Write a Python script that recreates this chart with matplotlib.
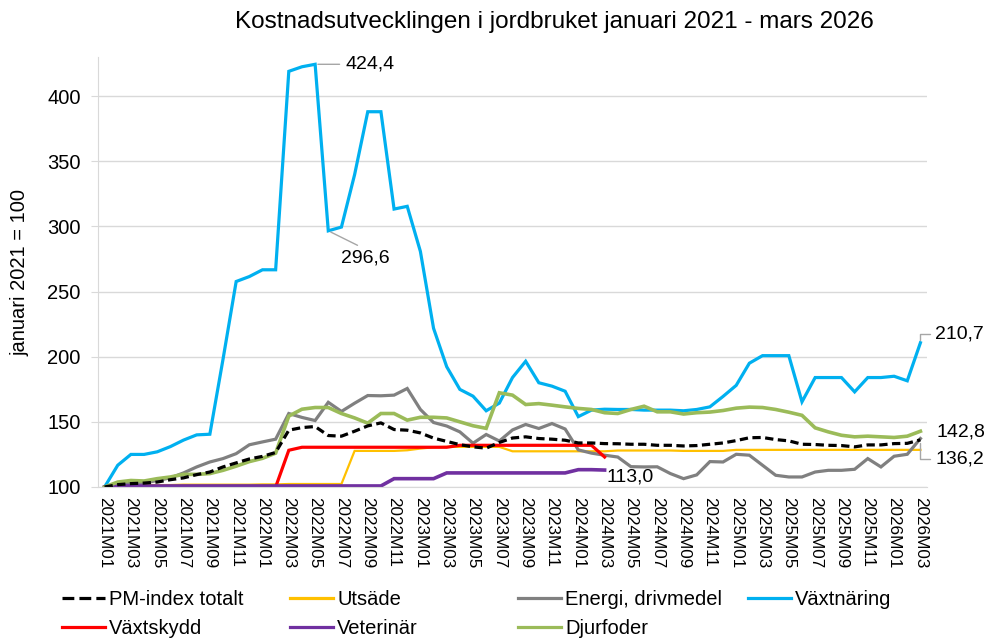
import numpy as np
import matplotlib
matplotlib.use("Agg")
import matplotlib.pyplot as plt
from matplotlib.lines import Line2D

plt.rcParams['font.family'] = ['Liberation Sans', 'DejaVu Sans']

# manader 2021M01 - 2026M03
months = [f"{y}M{m:02d}" for y in range(2021, 2027) for m in range(1, 13)][:63]

pm_totalt = [100, 101.8, 102.6, 103, 103.8, 105.6, 107, 109.5, 111.5, 115.4, 118.5, 121.5,
             123.5, 126.5, 143.6, 145.6, 146.4, 139.5, 139, 142.8, 146.9, 149.2, 144.1, 143.6,
             141.5, 137.5, 135, 132.5, 130.8, 129.8, 134.2, 137.6, 138.5, 137.2, 136.7, 135.9,
             133.8, 133.8, 133.3, 133.2, 132.8, 132.8, 132, 132, 131.5, 131.8, 132.8, 133.8,
             135.6, 137.8, 138, 136.4, 135.4, 132.8, 132.6, 132, 131.8, 130.8, 132.3, 132.3,
             133.3, 133.5, 136.2]
utsade = [100, 101.2, 101.5, 101.5, 101.5, 101.5, 101.8, 101.8, 101.8, 101.8, 101.8, 101.8,
          102, 102, 102.3, 102.3, 102.3, 102.3, 102.3, 127.7, 127.7, 127.7, 127.7, 128.2,
          129.5, 130.5, 130.8, 130.8, 130.8, 130.8, 130.8, 127.4, 127.4, 127.4, 127.4, 127.4,
          127.4, 127.4, 127.4, 128, 128, 128, 128, 128, 127.7, 127.7, 127.7, 127.7,
          128.5, 128.5, 128.5, 128.5, 128.5, 128.5, 128.5, 128.5, 128.5, 128.5, 128.5, 128.5,
          128.5, 128.5, 128.5]
energi = [100, 102.6, 102.6, 103, 105, 107, 110.8, 115.4, 119.2, 121.8, 125.6, 132.4,
          134.6, 136.7, 156.4, 153.4, 151, 165, 158, 164.3, 170.2, 170, 170.5, 175.6,
          159.5, 149.5, 146.8, 142.3, 133.6, 140.3, 135.3, 143.8, 148, 144.9, 148.7, 144.5,
          128.5, 126, 124.4, 123, 115.6, 115.4, 115.5, 110.3, 106.4, 109.3, 119.5, 119.2,
          125.1, 124.4, 116.7, 109, 107.7, 107.7, 111.5, 112.8, 112.8, 113.6, 121.8, 115.4,
          123.6, 125.1, 137.2]
vaxtnaring = [100, 116.7, 125, 125, 127, 131, 136, 140, 140.5, 198, 257.7, 261.5,
              266.7, 266.7, 419, 422.5, 424.4, 296.6, 299.5, 339.7, 388, 388, 313.3, 315.4,
              280.8, 221.8, 192.3, 174.9, 169.7, 158.5, 164.4, 184, 196.5, 180, 177.4, 173.5,
              154, 159, 159.7, 159.5, 159.5, 159, 159, 159, 158.5, 159.5, 161.5, 169.5,
              178, 195, 200.8, 200.8, 200.8, 165.4, 184, 184, 184, 173, 184, 184,
              185, 181.5, 210.7]
vaxtskydd = [100] * 14 + [128.2] + [130.5] * 12 + [132] * 11 + [123]
veterinar = [100] + [100.8] * 21 + [106.4] * 4 + [110.8] * 10 + [113.3, 113.3, 113.0]
djurfoder = [100, 103.8, 105, 104.6, 106.4, 107.7, 109.7, 109.7, 110.3, 112.8, 116, 119.5,
             122, 126, 154.4, 159.7, 161, 161, 156.4, 153, 149, 156.4, 156.4, 151.3,
             153.5, 153.5, 153, 150, 147, 145, 172.3, 170.5, 163.3, 164, 162.8, 161.5,
             160.3, 159.5, 157, 156.4, 159.5, 162, 157.7, 157.7, 156, 157, 157.5, 158.7,
             160.5, 161.3, 161, 159.5, 157.4, 155, 145.4, 142.3, 139.7, 138.5, 139, 138.5,
             138, 139, 142.8]

W, H = 987, 638
fig = plt.figure(figsize=(W / 100, H / 100), dpi=100)
ax = fig.add_axes([98 / W, 1 - 487 / H, 829 / W, 430 / H])

x = np.arange(len(months))
series = [
    ("Utsäde", utsade, "#FFC000", 1.6),
    ("Energi, drivmedel", energi, "#808080", 2.3),
    ("Växtnäring", vaxtnaring, "#00B0F0", 2.3),
    ("Växtskydd", vaxtskydd, "#FF0000", 2.3),
    ("Veterinär", veterinar, "#7030A0", 2.6),
    ("Djurfoder", djurfoder, "#9BBB59", 2.6),
]
lines = {}
for name, vals, col, lw in series:
    lines[name], = ax.plot(x[:len(vals)], vals, color=col, lw=lw, label=name,
                           solid_joinstyle='miter')
lines["PM-index totalt"], = ax.plot(x, pm_totalt, color='black', lw=2.3,
                                    ls=(0, (2.6, 1.4)), label="PM-index totalt")

ax.set_xlim(-0.5, len(months) - 0.5)
ax.set_ylim(100, 430)
ax.set_yticks(np.arange(100, 401, 50))
ax.set_xticks(x[::2])
ax.set_xticklabels(months[::2], rotation=270, fontsize=12.3)
ax.tick_params(axis='x', length=0, pad=7)
ax.tick_params(axis='y', length=5, color='#D9D9D9', pad=7.5, labelsize=14.5)
ax.grid(axis='y', color='#D9D9D9', lw=1)
ax.set_axisbelow(True)
for s in ['top', 'right']:
    ax.spines[s].set_visible(False)
for s in ['left', 'bottom']:
    ax.spines[s].set_color('#D9D9D9')

fig.text(554 / W, 1 - 22 / H, "Kostnadsutvecklingen i jordbruket januari 2021 - mars 2026",
         ha='center', va='center', fontsize=17.5)
fig.text(20 / W, 1 - 273 / H, "januari 2021 = 100", rotation=90,
         ha='center', va='center', fontsize=14.5)

# etiketter
lead = dict(arrowstyle='-', color='#A6A6A6', lw=1, shrinkA=2, shrinkB=2)
fs = 14
ax.annotate("424,4", xy=(16, vaxtnaring[16]), xytext=(30, 0), textcoords='offset pixels',
            ha='left', va='center', fontsize=fs,
            arrowprops=dict(lead, relpos=(0, 0.5)))
ax.annotate("296,6", xy=(17, vaxtnaring[17]), xytext=(13, -27), textcoords='offset pixels',
            ha='left', va='center', fontsize=fs,
            arrowprops=dict(lead, relpos=(0.5, 1)))
ax.annotate("210,7", xy=(62, vaxtnaring[62]), xytext=(15, 9), textcoords='offset pixels',
            ha='left', va='center', fontsize=fs,
            arrowprops=dict(lead, relpos=(0, 0.5),
                            connectionstyle="angle,angleA=0,angleB=90,rad=0"))
ax.annotate("136,2", xy=(62, pm_totalt[62]), xytext=(15, -19), textcoords='offset pixels',
            ha='left', va='center', fontsize=fs,
            arrowprops=dict(lead, relpos=(0, 0.5),
                            connectionstyle="angle,angleA=0,angleB=90,rad=0"))
ax.annotate("142,8", xy=(62, djurfoder[62]), xytext=(16, -1), textcoords='offset pixels',
            ha='left', va='center', fontsize=fs)
ax.annotate("113,0", xy=(38, veterinar[38]), xytext=(2, -7), textcoords='offset pixels',
            ha='left', va='center', fontsize=fs)

# legend i fyra kolumner
cols = [(62, ["PM-index totalt", "Växtskydd"]),
        (290, ["Utsäde", "Veterinär"]),
        (518, ["Energi, drivmedel", "Djurfoder"]),
        (748, ["Växtnäring"])]
for xpx, names in cols:
    hs = [Line2D([], [], color=lines[n].get_color(), lw=2.3, ls=lines[n].get_linestyle())
          for n in names]
    fig.legend(hs, names, loc='upper left', bbox_to_anchor=(xpx / W, 1 - 590 / H),
               frameon=False, fontsize=14.5, handlelength=2.15, handletextpad=0.2,
               labelspacing=0.48, borderpad=0, borderaxespad=0)

fig.savefig("out.png", dpi=100)
